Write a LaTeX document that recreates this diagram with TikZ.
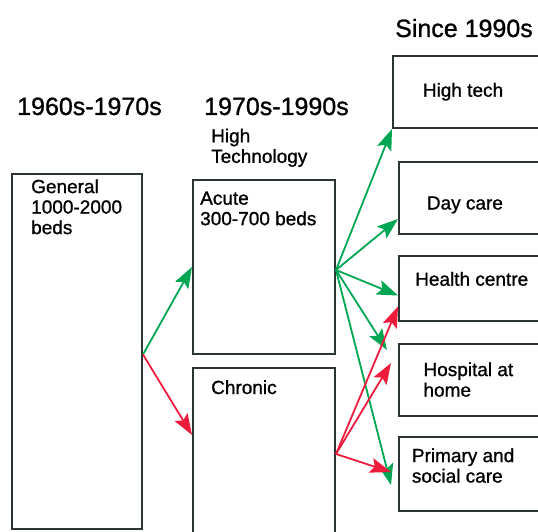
\documentclass[tikz,border=0pt]{standalone}
\usepackage{fontspec}
\setmainfont{Liberation Sans}[FakeBold=1]
\usetikzlibrary{arrows.meta}
\definecolor{arrowgreen}{RGB}{0,166,81}
\definecolor{arrowred}{RGB}{237,28,60}
\definecolor{boxgrey}{RGB}{45,52,54}

\begin{document}
\begin{tikzpicture}[x=1pt,y=-1pt,
    box/.style={draw=boxgrey, line width=2pt, rectangle, inner sep=0pt},
    heading/.style={anchor=base west, inner sep=0pt, font=\fontsize{25}{30}\selectfont},
    boxtext/.style={anchor=north west, inner sep=0pt, align=left, font=\fontsize{19}{20.5}\selectfont},
    linetext/.style={anchor=base west, inner sep=0pt, font=\fontsize{19}{20.5}\selectfont},
    greenarrow/.style={draw=arrowgreen, line width=1.8pt, -{Stealth[length=21pt,width=15pt,inset=4pt]}, fill=arrowgreen},
    redarrow/.style={draw=arrowred, line width=1.8pt, -{Stealth[length=21pt,width=15pt,inset=4pt]}, fill=arrowred}]
  \useasboundingbox (0,0) rectangle (538,532);

  % headings
  \node (sixties) [heading] at (17,115) {1960s-1970s};
  \node (seventies) [heading] at (204,115) {1970s-1990s};
  \node (nineties) [heading] at (395,37) {Since 1990s};
  \node (hightechnology) [boxtext] at (211,128.4) {High\\Technology};

  % boxes
  \node (general) [box, minimum width=130pt, minimum height=355pt] at (77,351.5) {};
  \node (acute) [box, minimum width=142pt, minimum height=174pt] at (264,267) {};
  \node (chronic) [box, minimum width=142pt, minimum height=180pt] at (264,458) {};
  \node (hightech) [box, minimum width=167pt, minimum height=72pt] at (476.5,92) {};
  \node (daycare) [box, minimum width=161pt, minimum height=72pt] at (479.5,198) {};
  \node (health) [box, minimum width=161pt, minimum height=65pt] at (479.5,288.5) {};
  \node (hospital) [box, minimum width=161pt, minimum height=72pt] at (479.5,380) {};
  \node (primary) [box, minimum width=161pt, minimum height=74pt] at (479.5,474) {};

  % box texts
  \node (generaltext) [boxtext] at (31,179.1) {General\\1000-2000\\beds};
  \node (acutetext) [boxtext] at (200,191.4) {Acute\\300-700 beds};
  \node (chronictext) [linetext] at (211,394) {Chronic};
  \node (hightechtext) [linetext] at (422.7,96.7) {High tech};
  \node (daycaretext) [linetext] at (426.7,209.5) {Day care};
  \node (healthtext) [linetext] at (415,285.7) {Health centre};
  \node (hospitaltext) [boxtext] at (423.3,362.1) {Hospital at\\home};
  \node (primarytext) [boxtext] at (411.7,448.1) {Primary and\\social care};

  \coordinate (generalout) at ([yshift=-3pt]general.east);
  \coordinate (acuteout) at ([yshift=-3pt]acute.east);
  \coordinate (chronicout) at ([yshift=4pt]chronic.east);

  \draw [greenarrow] (generalout) -- (acute.west);
  \draw [redarrow] (generalout) -- ([yshift=23pt]chronic.west);

  \draw [greenarrow] (acuteout) -- (hightech.south west);
  \draw [greenarrow] (acuteout) -- ([yshift=-21pt]daycare.west);
  \draw [greenarrow] (acuteout) -- ([yshift=-7pt]health.west);
  \draw [greenarrow] (acuteout) -- ([shift={(-11pt,-7pt)}]hospital.north west);
  \draw [greenarrow] (acuteout) -- ([shift={(-7pt,-11pt)}]primary.west);

  \draw [redarrow] (chronicout) -- ([yshift=-18pt]health.west);
  \draw [redarrow] (chronicout) -- ([shift={(-7pt,17pt)}]hospital.west);
  \draw [redarrow] (chronicout) -- ([shift={(-7pt,2pt)}]primary.west);
\end{tikzpicture}
\end{document}
